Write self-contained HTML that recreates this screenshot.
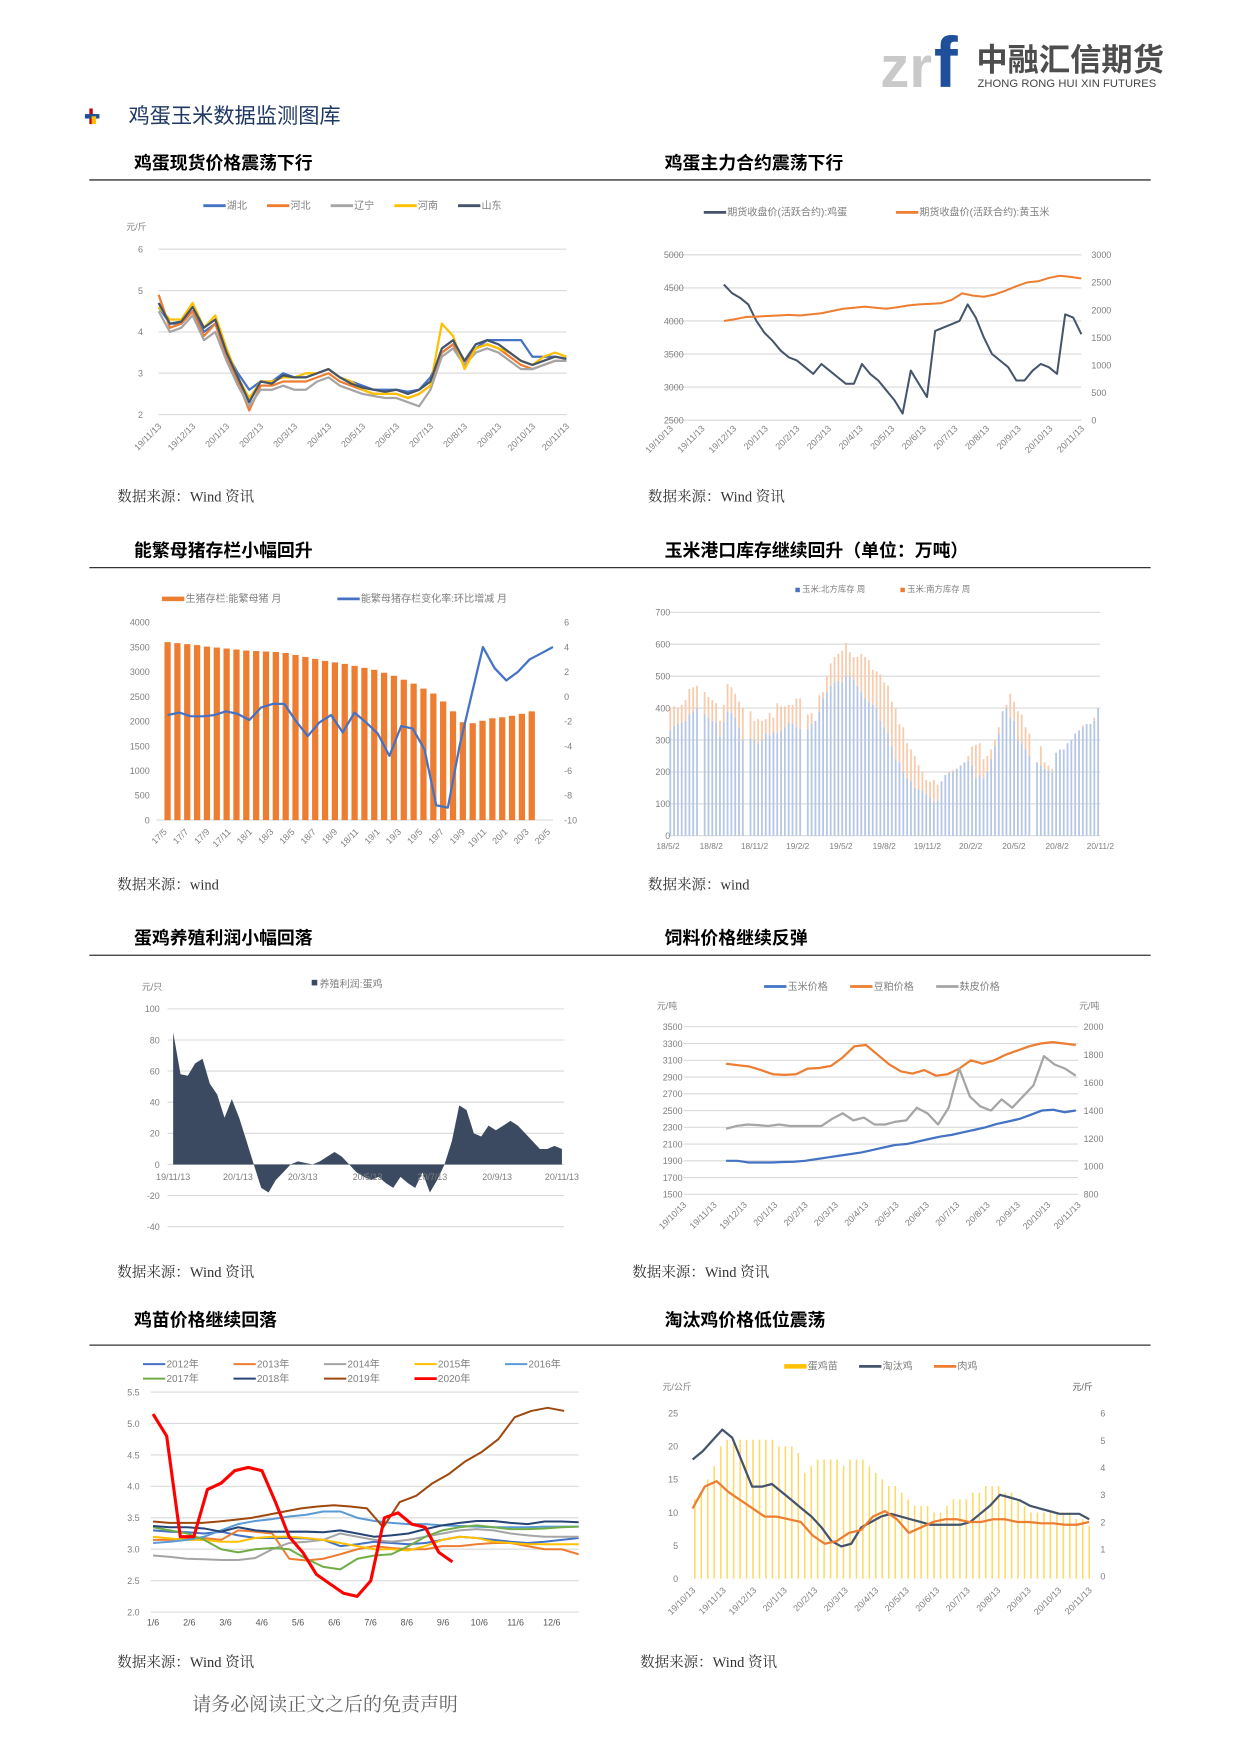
<!DOCTYPE html>
<html><head><meta charset="utf-8">
<style>
html,body{margin:0;padding:0;background:#fff;}
svg{display:block;font-family:"Liberation Sans","Noto Sans CJK SC",sans-serif;}
.serif{font-family:"Liberation Serif","Noto Serif CJK SC",serif;}
</style></head>
<body>
<svg id="page" width="1240" height="1753" viewBox="0 0 1110 1569" xmlns="http://www.w3.org/2000/svg">
<g>
<text x="788" y="78" font-size="52" font-weight="bold" fill="#c9c9c9">zr</text>
<text x="836" y="78" font-size="64" font-weight="bold" fill="#1f4e9a">f</text>
<text x="874" y="63" font-size="28" font-weight="bold" fill="#4d4d4d">中融汇信期货</text>
<text x="875" y="78" font-size="10" fill="#444" textLength="160">ZHONG RONG HUI XIN FUTURES</text>
</g>
<g><rect x="80" y="97" width="3" height="14" fill="#c00000"/><rect x="76" y="102" width="13" height="4" fill="#1f4e9a"/><rect x="82" y="104" width="4" height="7" fill="#ffc000"/></g>
<text x="115" y="110" font-size="19" fill="#1f3864">鸡蛋玉米数据监测图库</text>
<g id="heads"></g>
<g id="c1"></g>
<g id="c2"></g>
<g id="c3"></g>
<g id="c4"></g>
<g id="c5"></g>
<g id="c6"></g>
<g id="c7"></g>
<g id="c8"></g>
<text x="172" y="1531" font-size="17" fill="#666" class="serif">请务必阅读正文之后的免责声明</text>
</svg>
<script>
const NS="http://www.w3.org/2000/svg";
// ---- chart 1 data ----
const c1Dates=["19/11/13","19/12/13","20/1/13","20/2/13","20/3/13","20/4/13","20/5/13","20/6/13","20/7/13","20/8/13","20/9/13","20/10/13","20/11/13"];
const c1Ticks=[2,3,4,5,6];
const c1Hubei=[4.6,4.2,4.2,4.5,4.0,4.2,3.5,3.0,2.6,2.8,2.8,3.0,2.9,2.9,3.0,3.1,2.9,2.8,2.7,2.6,2.6,2.6,2.55,2.6,2.9,3.5,3.7,3.3,3.6,3.8,3.8,3.8,3.8,3.4,3.4,3.4,3.35];
const c1Hebei=[4.9,4.1,4.2,4.5,3.9,4.2,3.4,2.8,2.1,2.7,2.7,2.8,2.8,2.8,2.9,3.0,2.8,2.7,2.6,2.5,2.5,2.5,2.4,2.5,2.7,3.5,3.7,3.2,3.6,3.7,3.6,3.4,3.2,3.1,3.2,3.3,3.3];
const c1Liaoning=[4.5,4.0,4.1,4.4,3.8,4.0,3.3,2.7,2.2,2.6,2.6,2.7,2.6,2.6,2.8,2.9,2.7,2.6,2.5,2.45,2.4,2.4,2.3,2.2,2.6,3.4,3.6,3.2,3.5,3.6,3.5,3.3,3.1,3.1,3.2,3.3,3.3];
const c1Henan=[4.6,4.3,4.3,4.7,4.1,4.4,3.6,2.9,2.4,2.8,2.8,2.9,2.9,3.0,3.0,3.1,2.9,2.8,2.6,2.5,2.5,2.5,2.4,2.5,2.7,4.2,3.9,3.1,3.6,3.7,3.6,3.5,3.3,3.2,3.4,3.5,3.4];
const c1Shandong=[4.7,4.2,4.25,4.6,4.1,4.3,3.5,2.9,2.3,2.8,2.75,2.95,2.9,2.9,3.0,3.1,2.9,2.75,2.65,2.6,2.55,2.6,2.5,2.6,2.8,3.6,3.8,3.3,3.7,3.8,3.7,3.5,3.3,3.2,3.3,3.4,3.35];
// ---- chart 2 data ----
const c2Dates=["19/10/13","19/11/13","19/12/13","20/1/13","20/2/13","20/3/13","20/4/13","20/5/13","20/6/13","20/7/13","20/8/13","20/9/13","20/10/13","20/11/13"];
const c2LeftTicks=[2500,3000,3500,4000,4500,5000];
const c2RightTicks=[0,500,1000,1500,2000,2500,3000];
const c2Egg=[4550,4420,4350,4250,4000,3820,3700,3550,3450,3400,3300,3200,3350,3250,3150,3050,3050,3350,3200,3100,2950,2800,2600,3250,3050,2850,3850,3900,3950,4000,4250,4050,3750,3500,3400,3300,3100,3100,3250,3350,3300,3200,4100,4050,3800];
const c2Corn=[1800,1830,1870,1880,1890,1900,1910,1900,1920,1940,1980,2020,2040,2060,2040,2020,2050,2080,2100,2110,2120,2180,2300,2260,2240,2280,2350,2430,2500,2520,2580,2620,2600,2570];
// ---- chart 3 data ----
const c3Dates=["17/5","17/7","17/9","17/11","18/1","18/3","18/5","18/7","18/9","18/11","19/1","19/3","19/5","19/7","19/9","19/11","20/1","20/3","20/5"];
const c3LeftTicks=[0,500,1000,1500,2000,2500,3000,3500,4000];
const c3RightTicks=[-10,-8,-6,-4,-2,0,2,4,6];
const c3Sows=[3600,3580,3560,3540,3510,3490,3470,3450,3430,3420,3410,3400,3380,3340,3300,3260,3220,3190,3160,3120,3080,3040,2980,2920,2840,2760,2660,2560,2400,2200,1980,1960,2010,2060,2080,2110,2150,2200];
const c3Change=[-1.5,-1.3,-1.6,-1.6,-1.5,-1.2,-1.4,-1.9,-0.9,-0.6,-0.6,-2.0,-3.2,-2.1,-1.5,-2.9,-1.3,-2.1,-3.0,-4.8,-2.4,-2.6,-4.3,-8.8,-9.0,-4.0,0,4.0,2.3,1.3,2.0,3.0,3.5,4.0];
// ---- chart 4 data ----
const c4Dates=["18/5/2","18/8/2","18/11/2","19/2/2","19/5/2","19/8/2","19/11/2","20/2/2","20/5/2","20/8/2","20/11/2"];
const c4Ticks=[0,100,200,300,400,500,600,700];
const c4North=[330,345,350,355,360,380,390,400,0,380,370,360,355,310,355,390,385,370,340,300,0,305,300,290,300,320,315,325,320,330,340,355,350,340,335,0,335,350,360,390,430,450,470,480,485,480,500,500,490,470,450,430,420,410,400,360,340,320,280,240,230,200,180,170,150,145,140,130,120,105,110,170,190,195,200,210,220,230,235,220,180,190,180,200,240,280,320,390,400,370,360,300,290,270,250,0,230,220,210,205,200,260,270,270,290,300,320,330,340,350,350,360,400];
const c4Total=[400,405,400,410,425,460,465,470,0,450,435,425,415,360,410,475,465,445,420,400,0,390,360,365,360,365,385,370,415,405,405,410,410,430,430,0,380,385,0,440,450,500,540,560,570,580,605,575,560,560,570,560,550,520,515,505,480,470,420,400,350,340,290,270,250,220,200,175,170,175,160,140,145,200,205,210,220,230,250,280,285,290,240,250,270,300,340,380,410,445,420,390,380,340,320,290,0,280,230,220,210,230,200,270,280,290,320,310,345,345,350,370,380,380,435];
// ---- chart 5 data ----
const c5Dates=["19/11/13","20/1/13","20/3/13","20/5/13","20/7/13","20/9/13","20/11/13"];
const c5Ticks=[-40,-20,0,20,40,60,80,100];
const c5Profit=[85,58,57,65,68,52,45,30,42,30,15,0,-15,-18,-10,-5,0,2,1,0,2,5,8,5,0,-5,-8,-10,-8,-12,-15,-8,-12,-15,-5,-18,-10,0,15,38,35,20,18,25,22,25,28,25,20,15,10,10,12,10];
// ---- chart 6 data ----
const c6Dates=["19/10/13","19/11/13","19/12/13","20/1/13","20/2/13","20/3/13","20/4/13","20/5/13","20/6/13","20/7/13","20/8/13","20/9/13","20/10/13","20/11/13"];
const c6LeftTicks=[1500,1700,1900,2100,2300,2500,2700,2900,3100,3300,3500];
const c6RightTicks=[800,1000,1200,1400,1600,1800,2000];
const c6Corn=[1900,1900,1880,1880,1880,1885,1890,1900,1920,1940,1960,1980,2000,2030,2060,2090,2100,2130,2160,2190,2210,2240,2270,2300,2340,2370,2400,2450,2500,2510,2480,2500];
const c6Meal=[1735,1725,1715,1690,1660,1655,1660,1700,1705,1720,1780,1860,1870,1800,1730,1680,1665,1690,1650,1660,1700,1760,1735,1760,1800,1830,1860,1880,1890,1880,1870];
const c6Bran=[1270,1290,1300,1295,1290,1300,1290,1290,1290,1290,1340,1380,1330,1350,1300,1300,1320,1330,1420,1380,1300,1420,1700,1500,1430,1400,1480,1420,1500,1580,1790,1730,1700,1650];
// ---- chart 7 data ----
const c7Months=["1/6","2/6","3/6","4/6","5/6","6/6","7/6","8/6","9/6","10/6","11/6","12/6"];
const c7Ticks=[2.0,2.5,3.0,3.5,4.0,4.5,5.0,5.5];
const c7Y2012=[3.3,3.28,3.27,3.25,3.28,3.22,3.18,3.18,3.18,3.17,3.15,3.05,3.08,3.12,3.1,3.08,3.1,3.15,3.2,3.18,3.15,3.12,3.1,3.12,3.15,3.18];
const c7Y2013=[3.15,3.15,3.18,3.18,3.15,3.3,3.28,3.25,2.85,2.82,2.85,2.92,3.0,3.05,3.02,3.0,3.0,3.05,3.05,3.08,3.1,3.1,3.05,3.0,3.0,2.92];
const c7Y2014=[2.9,2.88,2.85,2.84,2.83,2.83,2.86,3.0,3.1,3.12,3.15,3.25,3.2,3.15,3.12,3.15,3.2,3.25,3.3,3.32,3.3,3.25,3.22,3.2,3.2,3.2];
const c7Y2015=[3.2,3.17,3.15,3.15,3.12,3.12,3.18,3.2,3.2,3.18,3.15,3.1,3.05,3.0,3.0,2.98,3.05,3.15,3.2,3.18,3.12,3.1,3.08,3.08,3.08,3.08];
const c7Y2016=[3.1,3.12,3.15,3.2,3.3,3.4,3.45,3.48,3.52,3.55,3.6,3.6,3.5,3.45,3.42,3.4,3.4,3.38,3.37,3.36,3.35,3.35,3.35,3.36,3.36,3.36];
const c7Y2017=[3.35,3.3,3.25,3.15,3.0,2.95,3.0,3.02,3.0,2.85,2.72,2.68,2.85,2.9,2.92,3.05,3.2,3.3,3.35,3.38,3.35,3.32,3.32,3.33,3.35,3.36];
const c7Y2018=[3.37,3.35,3.35,3.33,3.28,3.35,3.3,3.28,3.28,3.28,3.27,3.3,3.25,3.2,3.22,3.25,3.32,3.38,3.42,3.45,3.45,3.42,3.4,3.44,3.44,3.43];
const c7Y2019=[3.44,3.42,3.42,3.42,3.44,3.47,3.5,3.55,3.6,3.65,3.68,3.7,3.68,3.65,3.35,3.75,3.85,4.05,4.2,4.4,4.55,4.75,5.1,5.2,5.25,5.2];
const c7Y2020=[5.15,4.8,3.2,3.2,3.95,4.05,4.25,4.3,4.25,3.75,3.2,2.95,2.6,2.45,2.3,2.25,2.5,3.5,3.58,3.4,3.35,2.95,2.8];
// ---- chart 8 data ----
const c8Dates=["19/10/13","19/11/13","19/12/13","20/1/13","20/2/13","20/3/13","20/4/13","20/5/13","20/6/13","20/7/13","20/8/13","20/9/13","20/10/13","20/11/13"];
const c8LeftTicks=[0,5,10,15,20,25];
const c8RightTicks=[0,1,2,3,4,5,6];
const c8Chick=[12,13,15,17,20,21,21,21,21,21,21,21,21,20,20,20,19,16,17,18,18,18,18,17,18,18,18,17,16,15,14,14,13,12,11,11,11,10,10,11,12,12,12,13,13,14,14,14,13,13,12,11,10,10,10,10,10,10,10,9,9,8];
const c8Hen=[4.3,4.6,5.0,5.4,5.1,4.2,3.3,3.3,3.4,3.1,2.8,2.5,2.2,1.8,1.3,1.1,1.2,1.8,2.0,2.2,2.3,2.2,2.1,2.0,1.9,1.9,1.9,1.9,2.0,2.3,2.6,3.0,2.9,2.8,2.6,2.5,2.4,2.3,2.3,2.3,2.1];
const c8Broiler=[2.5,3.3,3.5,3.1,2.8,2.5,2.2,2.2,2.1,2.0,1.5,1.2,1.3,1.6,1.7,2.2,2.4,2.1,1.6,1.8,2.0,2.1,2.1,2.0,2.0,2.1,2.1,2.0,2.0,1.95,1.95,1.9,1.9,2.0];

function S(d0,d1,p0,p1){return v=>p0+(v-d0)*(p1-p0)/(d1-d0);}
function mk(tag,parent,attrs){const e=document.createElementNS(NS,tag);for(const k in attrs)e.setAttribute(k,attrs[k]);parent.appendChild(e);return e;}
function T(parent,x,y,s,size,color,anchor,name,rot){
  const t=mk('text',parent,{x:x,y:y,'font-size':size,fill:color,'text-anchor':anchor||'start'});
  if(rot)t.setAttribute('transform','rotate('+rot+' '+x+' '+y+')');
  t.textContent=s;
  
  
  return t;}
function L(parent,x1,y1,x2,y2,color,w,name){
  const l=mk('line',parent,{x1:x1,y1:y1,x2:x2,y2:y2,stroke:color,'stroke-width':w});
  
  
  return l;}
function P(parent,vals,xs,ys,color,w,name){
  const pts=vals.map((v,i)=>xs(i).toFixed(1)+','+ys(v).toFixed(1)).join(' ');
  const p=mk('polyline',parent,{points:pts,fill:'none',stroke:color,'stroke-width':w,'stroke-linejoin':'round'});
  
  
  return p;}
function yGrid(g,ticks,ys,x0,x1,lx,anchor,fmt,show){
  ticks.forEach(v=>{ if(show!==false) L(g,x0,ys(v),x1,ys(v),'#d9d9d9',1,'gridline');
    T(g,lx,ys(v)+3,fmt?fmt(v):String(v),8,'#7f7f7f',anchor,'y-tick-label');});}
function yLabels(g,ticks,ys,lx,anchor,fmt){ticks.forEach(v=>{T(g,lx,ys(v)+3,fmt?fmt(v):String(v),8,'#7f7f7f',anchor,'y2-tick-label');});}
function xRot(g,labels,x0,x1,y){labels.forEach((s,i)=>{const x=x0+i*(x1-x0)/(labels.length-1);T(g,x+3,y,s,8,'#7f7f7f','end','x-tick-label',-45);});}
function legLine(g,x,y,color,label,w){L(g,x,y,x+20,y,color,w||2.5,'legend-swatch');T(g,x+21,y+3,label,9,'#7f7f7f','start','legend-label');}

// headings
const H=document.getElementById('heads');
[[120,151,'鸡蛋现货价格震荡下行'],[595,151,'鸡蛋主力合约震荡下行'],[120,498,'能繁母猪存栏小幅回升'],[595,498,'玉米港口库存继续回升（单位：万吨）'],[120,845,'蛋鸡养殖利润小幅回落'],[595,845,'饲料价格继续反弹'],[120,1187,'鸡苗价格继续回落'],[595,1187,'淘汰鸡价格低位震荡']].forEach(h=>{T(H,h[0],h[1],h[2],16,'#000','start','chart-heading').setAttribute('font-weight','bold');});
[161,508,855,1204].forEach(y=>L(H,80,y,1030,y,'#333',1.2,'heading-rule'));
[[105,449,'数据来源：Wind 资讯'],[580,449,'数据来源：Wind 资讯'],[105,796,'数据来源：wind'],[580,796,'数据来源：wind'],[105,1143,'数据来源：Wind 资讯'],[566,1143,'数据来源：Wind 资讯'],[105,1492,'数据来源：Wind 资讯'],[573,1492,'数据来源：Wind 资讯']].forEach(s=>{T(H,s[0],s[1],s[2],13,'#333','start','data-source-note').setAttribute('class','serif');});

// chart 1
(function(){const g=document.getElementById('c1');
 const ys=S(2,6,371,223);
 yGrid(g,c1Ticks,ys,142,507,128,'end');
 T(g,113,206,'元/斤',8,'#7f7f7f','start','y-axis-unit');
 xRot(g,c1Dates,142,507,382);
 [['#4472c4','湖北'],['#ed7d31','河北'],['#a5a5a5','辽宁'],['#ffc000','河南'],['#44546a','山东']].forEach((l,i)=>legLine(g,182+i*57,184,l[0],l[1]));
 const mkx=a=>S(0,a.length-1,142,507);
 P(g,c1Hubei,mkx(c1Hubei),ys,'#4472c4',2,'series-hubei');
 P(g,c1Hebei,mkx(c1Hebei),ys,'#ed7d31',2,'series-hebei');
 P(g,c1Liaoning,mkx(c1Liaoning),ys,'#a5a5a5',2,'series-liaoning');
 P(g,c1Henan,mkx(c1Henan),ys,'#ffc000',2,'series-henan');
 P(g,c1Shandong,mkx(c1Shandong),ys,'#44546a',2,'series-shandong');
})();
// chart 2
(function(){const g=document.getElementById('c2');
 const ys=S(2500,5000,376,228), yr=S(0,3000,376,228);
 yGrid(g,c2LeftTicks,ys,598,968,612,'end');
 yLabels(g,c2RightTicks,yr,977,'start');
 xRot(g,c2Dates,600,968,384);
 legLine(g,630,190,'#44546a','期货收盘价(活跃合约):鸡蛋');
 legLine(g,802,190,'#ed7d31','期货收盘价(活跃合约):黄玉米');
 P(g,c2Egg,S(0,c2Egg.length-1,648,968),ys,'#44546a',1.8,'series-egg-futures');
 P(g,c2Corn,S(0,c2Corn.length-1,648,968),yr,'#ed7d31',1.8,'series-corn-futures');
})();
// chart 3
(function(){const g=document.getElementById('c3');
 const ys=S(0,4000,734,557), yr=S(-10,6,734,557);
 yGrid(g,c3LeftTicks,ys,140,495,134,'end',null,false);
 L(g,140,734,495,734,'#d9d9d9',1,'x-axis-line');
 yLabels(g,c3RightTicks,yr,505,'start');
 xRot(g,c3Dates,147,490,745);
 legLine(g,145,536,'#ed7d31','生猪存栏:能繁母猪 月',4);
 legLine(g,302,536,'#4472c4','能繁母猪存栏变化率:环比增减 月');
 const xb=S(0,c3Sows.length-1,150,476);
 c3Sows.forEach((v,i)=>{const r=mk('rect',g,{x:xb(i)-2.8,y:ys(v),width:5.6,height:ys(0)-ys(v),fill:'#ed7d31'});
  
  });
 P(g,c3Change,S(0,c3Change.length-1,150,495),yr,'#4472c4',2,'series-sow-change-rate');
})();
// chart 4
(function(){const g=document.getElementById('c4');
 const ys=S(0,700,748,548);
 yGrid(g,c4Ticks,ys,598,985,600,'end');
 c4Dates.forEach((s,i)=>T(g,598+i*(985-598)/(c4Dates.length-1),760,s,7.5,'#7f7f7f','middle','x-tick-label'));
 mk('rect',g,{x:712,y:526,width:4,height:4,fill:'#4472c4'});
 T(g,718,530,'玉米:北方库存 周',7.5,'#7f7f7f','start','legend-label');
 mk('rect',g,{x:806,y:526,width:4,height:4,fill:'#ed7d31'});
 T(g,812,530,'玉米:南方库存 周',7.5,'#7f7f7f','start','legend-label');
 const xb=S(0,c4North.length-1,600,983);
 c4North.forEach((v,i)=>{const t=c4Total[i]||v;
  if(v>0){const r=mk('rect',g,{x:xb(i)-0.8,y:ys(v),width:1.6,height:ys(0)-ys(v),fill:'#b4c7e7'});
   
   }
  if(t>v&&v>0){const r2=mk('rect',g,{x:xb(i)-0.8,y:ys(t),width:1.6,height:ys(v)-ys(t),fill:'#f8cbad'});
   
   }});
})();
// chart 5
(function(){const g=document.getElementById('c5');
 const ys=S(-40,100,1098,903);
 yGrid(g,c5Ticks,ys,150,505,143,'end');
 T(g,127,886,'元/只',8,'#7f7f7f','start','y-axis-unit');
 mk('rect',g,{x:279,y:877,width:5,height:5,fill:'#3b4a61'});
 T(g,286,884,'养殖利润:蛋鸡',9,'#7f7f7f','start','legend-label');
 const xs=S(0,c5Profit.length-1,155,503);
 let d='M'+xs(0)+','+ys(0);
 c5Profit.forEach((v,i)=>{d+=' L'+xs(i).toFixed(1)+','+ys(v).toFixed(1);});
 d+=' L'+xs(c5Profit.length-1)+','+ys(0)+' Z';
 const a=mk('path',g,{d:d,fill:'#3b4a61'});
 
 
 c5Dates.forEach((s,i)=>T(g,155+i*(503-155)/(c5Dates.length-1),1056,s,8,'#7f7f7f','middle','x-tick-label'));
})();
// chart 6
(function(){const g=document.getElementById('c6');
 const ys=S(1500,3500,1069,919), yr=S(800,2000,1069,919);
 yGrid(g,c6LeftTicks,ys,612,965,611,'end');
 yLabels(g,c6RightTicks,yr,970,'start');
 T(g,588,903,'元/吨',8,'#7f7f7f','start','y-axis-unit');
 T(g,966,903,'元/吨',8,'#7f7f7f','start','y2-axis-unit');
 xRot(g,c6Dates,612,965,1079);
 legLine(g,684,883,'#4472c4','玉米价格');
 legLine(g,761,883,'#ed7d31','豆粕价格');
 legLine(g,838,883,'#a5a5a5','麸皮价格');
 P(g,c6Corn,S(0,c6Corn.length-1,650,963),ys,'#4472c4',2,'series-corn-price');
 P(g,c6Meal,S(0,c6Meal.length-1,650,963),yr,'#ed7d31',2,'series-soymeal-price');
 P(g,c6Bran,S(0,c6Bran.length-1,650,963),yr,'#a5a5a5',2,'series-bran-price');
})();
// chart 7
(function(){const g=document.getElementById('c7');
 const ys=S(2,5.5,1443,1246);
 yGrid(g,c7Ticks,ys,135,518,125,'end',v=>v.toFixed(1));
 const xm=S(0,11,137,494);
 c7Months.forEach((s,i)=>T(g,xm(i),1455,s,8,'#555','middle','x-tick-label'));
 const cols={y2012:'#4472c4',y2013:'#ed7d31',y2014:'#a5a5a5',y2015:'#ffc000',y2016:'#5b9bd5',y2017:'#70ad47',y2018:'#264478',y2019:'#9e480e',y2020:'#ff0000'};
 [['#4472c4','2012年'],['#ed7d31','2013年'],['#a5a5a5','2014年'],['#ffc000','2015年'],['#5b9bd5','2016年']].forEach((l,i)=>legLine(g,128+i*81,1221,l[0],l[1],1.8));
 [['#70ad47','2017年'],['#264478','2018年'],['#9e480e','2019年'],['#ff0000','2020年']].forEach((l,i)=>legLine(g,128+i*81,1234,l[0],l[1],l[0]=='#ff0000'?2.5:1.8));
 const full=a=>S(0,a.length-1,137,518);
 P(g,c7Y2012,full(c7Y2012),ys,cols.y2012,1.8,'series-2012');
 P(g,c7Y2013,full(c7Y2013),ys,cols.y2013,1.8,'series-2013');
 P(g,c7Y2014,full(c7Y2014),ys,cols.y2014,1.8,'series-2014');
 P(g,c7Y2015,full(c7Y2015),ys,cols.y2015,1.8,'series-2015');
 P(g,c7Y2016,full(c7Y2016),ys,cols.y2016,1.8,'series-2016');
 P(g,c7Y2017,full(c7Y2017),ys,cols.y2017,1.8,'series-2017');
 P(g,c7Y2018,full(c7Y2018),ys,cols.y2018,1.8,'series-2018');
 P(g,c7Y2019,S(0,c7Y2019.length-1,137,505),ys,cols.y2019,1.8,'series-2019');
 P(g,c7Y2020,S(0,c7Y2020.length-1,137,405),ys,cols.y2020,2.8,'series-2020');
})();
// chart 8
(function(){const g=document.getElementById('c8');
 const ys=S(0,25,1413,1265), yr=S(0,6,1411,1265);
 yGrid(g,c8LeftTicks,ys,612,975,607,'end',null,false);
 yLabels(g,c8RightTicks,yr,985,'start');
 T(g,593,1244,'元/公斤',8,'#7f7f7f','start','y-axis-unit');
 T(g,960,1244,'元/斤',8,'#555','start','y2-axis-unit');
 xRot(g,c8Dates,620,975,1424);
 legLine(g,702,1223,'#ffc000','蛋鸡苗',4);
 legLine(g,769,1223,'#44546a','淘汰鸡');
 legLine(g,836,1223,'#ed7d31','肉鸡');
 const xb=S(0,c8Chick.length-1,622,975);
 c8Chick.forEach((v,i)=>{const r=mk('rect',g,{x:xb(i)-0.7,y:ys(v),width:1.4,height:ys(0)-ys(v),fill:'#ffd966'});
  
  });
 P(g,c8Hen,S(0,c8Hen.length-1,620,975),yr,'#44546a',2,'series-culled-hen');
 P(g,c8Broiler,S(0,c8Broiler.length-1,620,975),yr,'#ed7d31',2,'series-broiler');
})();
</script>
</body></html>
